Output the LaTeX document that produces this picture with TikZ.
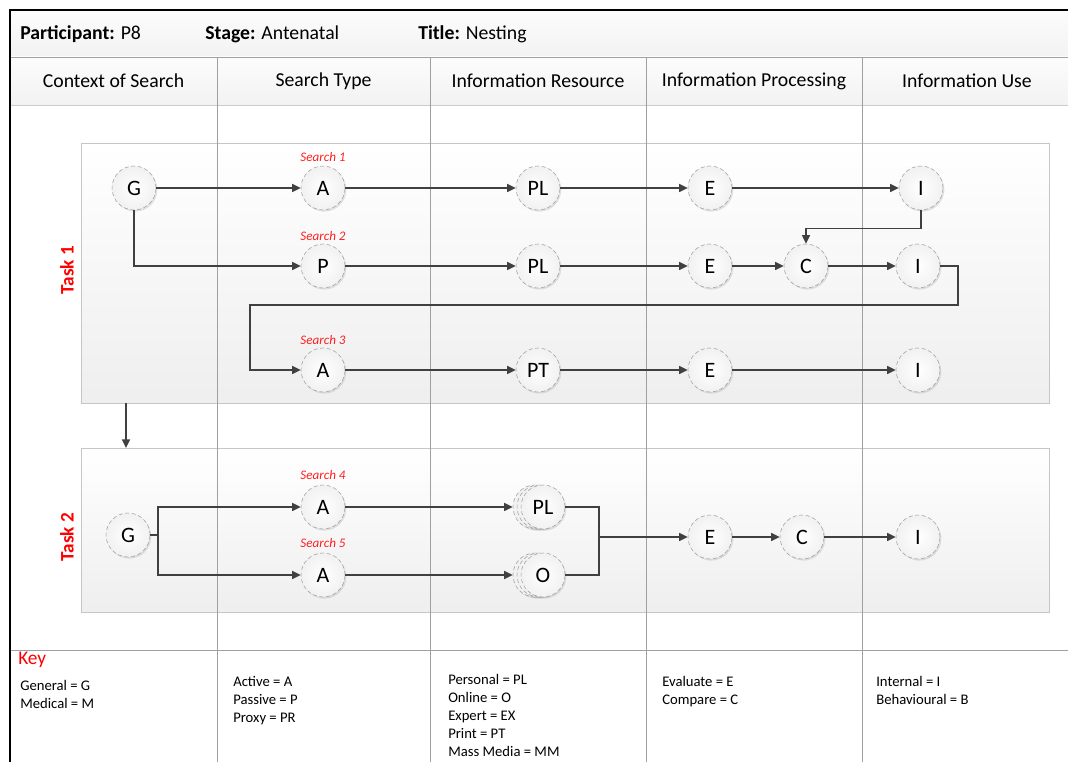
\documentclass[tikz,border=0pt]{standalone}
\usepackage{fontspec}
\setmainfont{Carlito}
\usetikzlibrary{arrows.meta,shadows,calc}
\definecolor{arrgray}{HTML}{404040}
\definecolor{taskred}{HTML}{FF0000}
\definecolor{srchred}{HTML}{FF2020}
\definecolor{linegray}{HTML}{A0A0A0}
\begin{document}
\begin{tikzpicture}[x=0.75pt,y=-0.75pt,
  hdr/.style={font=\fontsize{14.8}{17}\selectfont},
  cir/.style={circle,minimum size=33pt,inner sep=0pt,draw=gray!75,densely dashed,line width=0.4pt,
     shading=radial,inner color=white,outer color=gray!11,
     drop shadow={opacity=0.22,shadow xshift=1pt,shadow yshift=-1.2pt},
     font=\fontsize{16.5}{18}\selectfont},
  backcir/.style={cir},
  arr/.style={draw=arrgray,line width=1.1pt,-{Triangle[length=6.5pt,width=6pt]}},
  ln/.style={draw=arrgray,line width=1.1pt},
  srch/.style={font=\fontsize{9.8}{11}\selectfont\itshape,text=srchred},
  task/.style={font=\fontsize{14.4}{16}\selectfont\bfseries,text=taskred,rotate=90},
  band/.style={draw=gray!45,line width=0.6pt,top color=white,bottom color=gray!13},
  keyt/.style={font=\fontsize{11}{13.5}\selectfont,align=left,anchor=north west,inner sep=0pt},
  colline/.style={draw=linegray,line width=0.6pt}
]
\useasboundingbox (0,0) rectangle (1068,762);
% header rows
\fill[top color=gray!2,bottom color=gray!10] (10,10) rectangle (1068,57);
\fill[top color=gray!2,bottom color=gray!10] (10,57) rectangle (1068,105);
\draw[colline] (10,57) -- (1068,57);
\draw[colline,draw=gray!40] (10,105) -- (1068,105);
\node[hdr,anchor=west,inner sep=0pt] (hp) at (20,34) {\textbf{Participant:} P8};
\node[hdr,anchor=west,inner sep=0pt] (hs) at (205,34) {\textbf{Stage:} Antenatal};
\node[hdr,anchor=west,inner sep=0pt] (ht) at (418,34) {\textbf{Title:} Nesting};
\node[hdr] (c1) at (113.5,81) {Context of Search};
\node[hdr] (c2) at (323.5,81) {Search Type};
\node[hdr] (c3) at (538,81) {Information Resource};
\node[hdr] (c4) at (754,81) {Information Processing};
\node[hdr] (c5) at (967,81) {Information Use};
% bands
\node[band,minimum width=726pt,minimum height=195pt,inner sep=0pt] (band1) at (565,273) {};
\node[band,minimum width=726pt,minimum height=123pt,inner sep=0pt] (band2) at (565,530) {};
% column lines
\foreach \x in {217,430,646,862} \draw[colline] (\x,57) -- (\x,762);
\draw[colline] (10,650) -- (1068,650);
% frame
\draw[black,line width=2pt] (10,762) -- (10,10) -- (1068,10);
% task labels
\node[task] (task1) at (67,270) {Task 1};
\node[task] (task2) at (67,537) {Task 2};
% search labels
\node[srch] (s1) at (323,157) {Search 1};
\node[srch] (s2) at (323,236) {Search 2};
\node[srch] (s3) at (323,340) {Search 3};
\node[srch] (s4) at (323,475) {Search 4};
\node[srch] (s5) at (323,543) {Search 5};
% task 1 nodes
\node[cir] (g1) at (134,188) {G};
\node[cir] (a1) at (323,188) {A};
\node[cir] (pl1) at (538,188) {PL};
\node[cir] (e1) at (710,188) {E};
\node[cir] (i1) at (921,188) {I};
\node[cir] (p2) at (323,266) {P};
\node[cir] (pl2) at (538,266) {PL};
\node[cir] (e2) at (710,266) {E};
\node[cir] (c2n) at (806,266) {C};
\node[cir] (i2) at (918,266) {I};
\node[cir] (a3) at (323,370) {A};
\node[cir] (pt3) at (538,370) {PT};
\node[cir] (e3) at (710,370) {E};
\node[cir] (i3) at (918,370) {I};
% task 2 nodes
\node[cir] (g4) at (128,535) {G};
\node[cir] (a4) at (323,507) {A};
\node[cir] (a5) at (323,575) {A};
\node[backcir] (pl4c) at (535,507) {};
\node[backcir] (pl4b) at (539,507) {};
\node[cir] (pl4) at (543,507) {PL};
\node[backcir] (o5c) at (535,575) {};
\node[backcir] (o5b) at (539,575) {};
\node[cir] (o5) at (543,575) {O};
\node[cir] (e6) at (710,537) {E};
\node[cir] (c6) at (802,537) {C};
\node[cir] (i6) at (918,537) {I};
% connectors task 1
\draw[arr] (g1) -- (a1);
\draw[arr] (a1) -- (pl1);
\draw[arr] (pl1) -- (e1);
\draw[arr] (e1) -- (i1);
\draw[arr] (g1.south) |- (p2.west);
\draw[arr] (p2) -- (pl2);
\draw[arr] (pl2) -- (e2);
\draw[arr] (e2) -- (c2n);
\draw[arr] (c2n) -- (i2);
\draw[arr] (i1.south) -- ++(0,18) -| (c2n.north);
\coordinate (r1) at (958,305);
\coordinate (r2) at (250,305);
\draw[arr] (i2.east) -| (r1) -- (r2) |- (a3.west);
\draw[arr] (a3) -- (pt3);
\draw[arr] (pt3) -- (e3);
\draw[arr] (e3) -- (i3);
% between tasks
\coordinate (tb1) at (126,403);
\coordinate (tb2) at (126,448);
\draw[arr] (tb1) -- (tb2);
% connectors task 2
\coordinate (sp) at (158,535);
\draw[ln] (g4.east) -- (sp);
\draw[arr] (sp) |- (a4.west);
\draw[arr] (sp) |- (a5.west);
\draw[arr] (a4) -- (pl4c.west);
\draw[arr] (a5) -- (o5c.west);
\coordinate (j) at (599,537);
\draw[ln] (pl4.east) -| (j);
\draw[ln] (o5.east) -| (j);
\draw[arr] (j) -- (e6.west);
\draw[arr] (e6) -- (c6);
\draw[arr] (c6) -- (i6);
% key
\node[anchor=west,inner sep=0pt,text=taskred,font=\fontsize{14.5}{16}\selectfont] (key) at (18,660) {Key};
\node[keyt] (k1) at (20,680) {General = G\\Medical = M};
\node[keyt] (k2) at (233,676) {Active = A\\Passive = P\\Proxy = PR};
\node[keyt] (k3) at (448,674) {Personal = PL\\Online = O\\Expert = EX\\Print = PT\\Mass Media = MM};
\node[keyt] (k4) at (662,676) {Evaluate = E\\Compare = C};
\node[keyt] (k5) at (876,676) {Internal = I\\Behavioural = B};
\end{tikzpicture}
\end{document}
